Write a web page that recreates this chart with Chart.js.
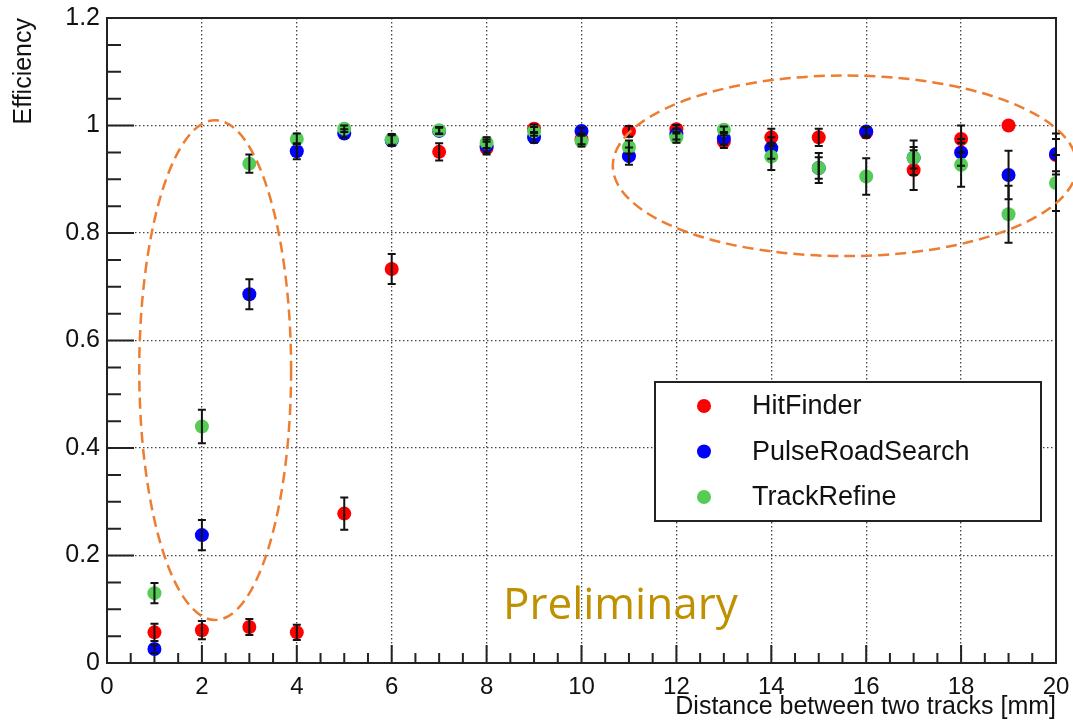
<!DOCTYPE html>
<html>
<head>
<meta charset="utf-8">
<script src="https://cdn.jsdelivr.net/npm/chart.js@4.4.0/dist/chart.umd.min.js"></script>
<style>
  html, body { margin: 0; padding: 0; background: #fff; }
  #wrap { position: relative; width: 1073px; height: 722px; }
</style>
</head>
<body>
<div id="wrap"><canvas id="efficiency-chart" width="1073" height="722"></canvas></div>
<script>
// distance between the two tracks [mm]
const distances = [1, 2, 3, 4, 5, 6, 7, 8, 9, 10, 11, 12, 13, 14, 15, 16, 17, 18, 19, 20];

const hitFinder = [0.057, 0.061, 0.067, 0.057, 0.278, 0.733, 0.951, 0.958, 0.994, 0.975,
  0.989, 0.993, 0.970, 0.978, 0.978, 0.987, 0.917, 0.975, 1.0, 0.945];
const hitFinderErr = [0.016, 0.017, 0.015, 0.014, 0.030, 0.028, 0.016, 0.012, 0.008, 0.010,
  0.010, 0.008, 0.012, 0.016, 0.016, 0.010, 0.037, 0.025, 0.0, 0.03];

const pulseRoadSearch = [0.026, 0.238, 0.686, 0.952, 0.985, 0.972, 0.990, 0.962, 0.978, 0.990,
  0.943, 0.984, 0.976, 0.958, 0.921, 0.989, 0.940, 0.950, 0.908, 0.947];
const pulseRoadSearchErr = [0.008, 0.028, 0.028, 0.015, 0.008, 0.010, 0.006, 0.012, 0.010, 0.006,
  0.016, 0.010, 0.012, 0.020, 0.020, 0.008, 0.020, 0.025, 0.045, 0.038];

const trackRefine = [0.130, 0.440, 0.929, 0.975, 0.994, 0.974, 0.991, 0.968, 0.989, 0.971,
  0.960, 0.978, 0.992, 0.942, 0.921, 0.905, 0.940, 0.927, 0.835, 0.893];
const trackRefineErr = [0.019, 0.031, 0.017, 0.010, 0.006, 0.010, 0.006, 0.010, 0.008, 0.010,
  0.012, 0.010, 0.006, 0.025, 0.028, 0.034, 0.032, 0.041, 0.053, 0.052];

const seriesNames = ["HitFinder", "PulseRoadSearch", "TrackRefine"];
const xTicks = [0, 2, 4, 6, 8, 10, 12, 14, 16, 18, 20];
const yTicks = [0, 0.2, 0.4, 0.6, 0.8, 1, 1.2];

const colors = { red: "#ff0000", blue: "#0000ff", green: "#55cc55" };
const axisFont = "Liberation Sans, Arial, Helvetica, sans-serif";

// dashed ellipses drawn on the slide (in axis units)
const highlightRegions = [
  { cx: 2.28, cy: 0.545, rx: 1.6, ry: 0.465 },
  { cx: 15.55, cy: 0.925, rx: 4.89, ry: 0.168 },
];

function toPoints(values, errors) {
  let pts = [];
  distances.forEach((d, i) => {
    if (values[i] !== null) pts.push({ x: d, y: values[i], err: errors[i] });
  });
  return pts;
}

// inner ROOT style frame + ticks
const framePlugin = {
  id: "frame",
  beforeDatasetsDraw(chart) {
    const { ctx, chartArea: ca, scales } = chart;
    ctx.save();
    ctx.strokeStyle = "#222";
    ctx.lineWidth = 2;
    ctx.beginPath();
    for (let v = 0; v <= 20.001; v += 0.5) {
      let px = scales.x.getPixelForValue(v);
      let len = Math.abs(v % 2) < 0.001 ? 18 : 10;
      ctx.moveTo(px, ca.bottom);
      ctx.lineTo(px, ca.bottom - len);
    }
    for (let v = 0; v <= 1.2001; v += 0.05) {
      let py = scales.y.getPixelForValue(v);
      let major = Math.abs(Math.round(v * 100) % 20) < 0.5;
      ctx.moveTo(ca.left, py);
      ctx.lineTo(ca.left + (major ? 27 : 14), py);
    }
    ctx.stroke();
    ctx.strokeRect(ca.left, ca.top, ca.right - ca.left, ca.bottom - ca.top);
    ctx.restore();
  },
};

const errorBarPlugin = {
  id: "errorBars",
  afterDatasetsDraw(chart) {
    const { ctx, scales } = chart;
    ctx.save();
    ctx.strokeStyle = "#111";
    ctx.lineWidth = 2;
    chart.data.datasets.forEach((ds) => {
      ds.data.forEach((p) => {
        if (!p.err) return;
        let px = scales.x.getPixelForValue(p.x);
        let top = scales.y.getPixelForValue(p.y + p.err);
        let bot = scales.y.getPixelForValue(p.y - p.err);
        ctx.beginPath();
        ctx.moveTo(px, top);
        ctx.lineTo(px, bot);
        ctx.moveTo(px - 4, top);
        ctx.lineTo(px + 4, top);
        ctx.moveTo(px - 4, bot);
        ctx.lineTo(px + 4, bot);
        ctx.stroke();
      });
    });
    ctx.restore();
  },
};

const annotationPlugin = {
  id: "annotations",
  afterDraw(chart) {
    const { ctx, chartArea: ca, scales } = chart;
    ctx.save();
    // legend box
    let lx = ca.left + 548, ly = ca.top + 364, lw = 386, lh = 139;
    ctx.fillStyle = "#fff";
    ctx.fillRect(lx, ly, lw, lh);
    ctx.strokeStyle = "#222";
    ctx.lineWidth = 2;
    ctx.strokeRect(lx, ly, lw, lh);
    ctx.font = "27px " + axisFont;
    ctx.textBaseline = "middle";
    chart.data.datasets.forEach((ds, i) => {
      let rowY = ly + 24 + i * 45.5;
      ctx.fillStyle = ds.backgroundColor;
      ctx.beginPath();
      ctx.arc(lx + 49, rowY, 7, 0, Math.PI * 2);
      ctx.fill();
      ctx.fillStyle = "#111";
      ctx.fillText(ds.label, lx + 97, rowY + 1);
    });

    // dashed ellipses
    ctx.strokeStyle = "#ed7d31";
    ctx.lineWidth = 2.5;
    ctx.setLineDash([11, 6]);
    highlightRegions.forEach((r) => {
      let cx = scales.x.getPixelForValue(r.cx);
      let cy = scales.y.getPixelForValue(r.cy);
      let rx = scales.x.getPixelForValue(r.cx + r.rx) - cx;
      let ry = cy - scales.y.getPixelForValue(r.cy + r.ry);
      ctx.beginPath();
      ctx.ellipse(cx, cy, rx, ry, 0, 0, Math.PI * 2);
      ctx.stroke();
    });
    ctx.setLineDash([]);

    // "Preliminary" stamp
    ctx.fillStyle = "#bf9000";
    ctx.font = "44px 'Open Sans', sans-serif";
    ctx.textBaseline = "alphabetic";
    ctx.fillText("Preliminary", ca.left + 396, ca.bottom - 44);
    ctx.restore();
  },
};

const seriesValues = [
  toPoints(hitFinder, hitFinderErr),
  toPoints(pulseRoadSearch, pulseRoadSearchErr),
  toPoints(trackRefine, trackRefineErr),
];
const seriesColors = [colors.red, colors.blue, colors.green];

let efficiencyChart = new Chart("efficiency-chart", {
  type: "scatter",
  data: {
    datasets: seriesNames.map((name, i) => ({
      label: name,
      data: seriesValues[i],
      backgroundColor: seriesColors[i],
      pointBackgroundColor: seriesColors[i],
      pointRadius: 7,
      pointBorderWidth: 0,
      order: 3 - i,
    })),
  },
  options: {
    responsive: false,
    animation: false,
    layout: { padding: { top: 18, right: 17, left: 0, bottom: 0 } },
    plugins: {
      legend: { display: false },
      tooltip: { enabled: false },
    },
    scales: {
      x: {
        type: "linear",
        min: 0,
        max: 20,
        afterBuildTicks: (scale) => {
          scale.ticks = xTicks.map((v) => ({ value: v }));
        },
        afterFit: (scale) => {
          scale.height = 59;
          scale.paddingLeft = 0;
          scale.paddingRight = 0;
        },
        ticks: {
          color: "#111",
          padding: 10,
          font: { family: axisFont, size: 24 },
        },
        grid: { color: "#444", lineWidth: 1.3, drawTicks: false },
        border: { display: false, dash: [1.5, 2.5] },
        title: {
          display: true,
          text: "Distance between two tracks [mm]",
          align: "end",
          color: "#111",
          padding: { top: 0, bottom: 0 },
          font: { family: axisFont, size: 25 },
        },
      },
      y: {
        type: "linear",
        min: 0,
        max: 1.2,
        afterBuildTicks: (scale) => {
          scale.ticks = yTicks.map((v) => ({ value: v }));
        },
        afterFit: (scale) => {
          scale.width = 107;
          scale.paddingTop = 0;
          scale.paddingBottom = 0;
        },
        ticks: {
          color: "#111",
          padding: 7,
          font: { family: axisFont, size: 25 },
          callback: (v) => String(Math.round(v * 10) / 10),
        },
        grid: { color: "#444", lineWidth: 1.3, drawTicks: false },
        border: { display: false, dash: [1.5, 2.5] },
        title: {
          display: true,
          text: "Efficiency",
          align: "end",
          color: "#111",
          padding: { top: 9, bottom: 0 },
          font: { family: axisFont, size: 25 },
        },
      },
    },
  },
  plugins: [framePlugin, errorBarPlugin, annotationPlugin],
});
</script>
</body>
</html>
